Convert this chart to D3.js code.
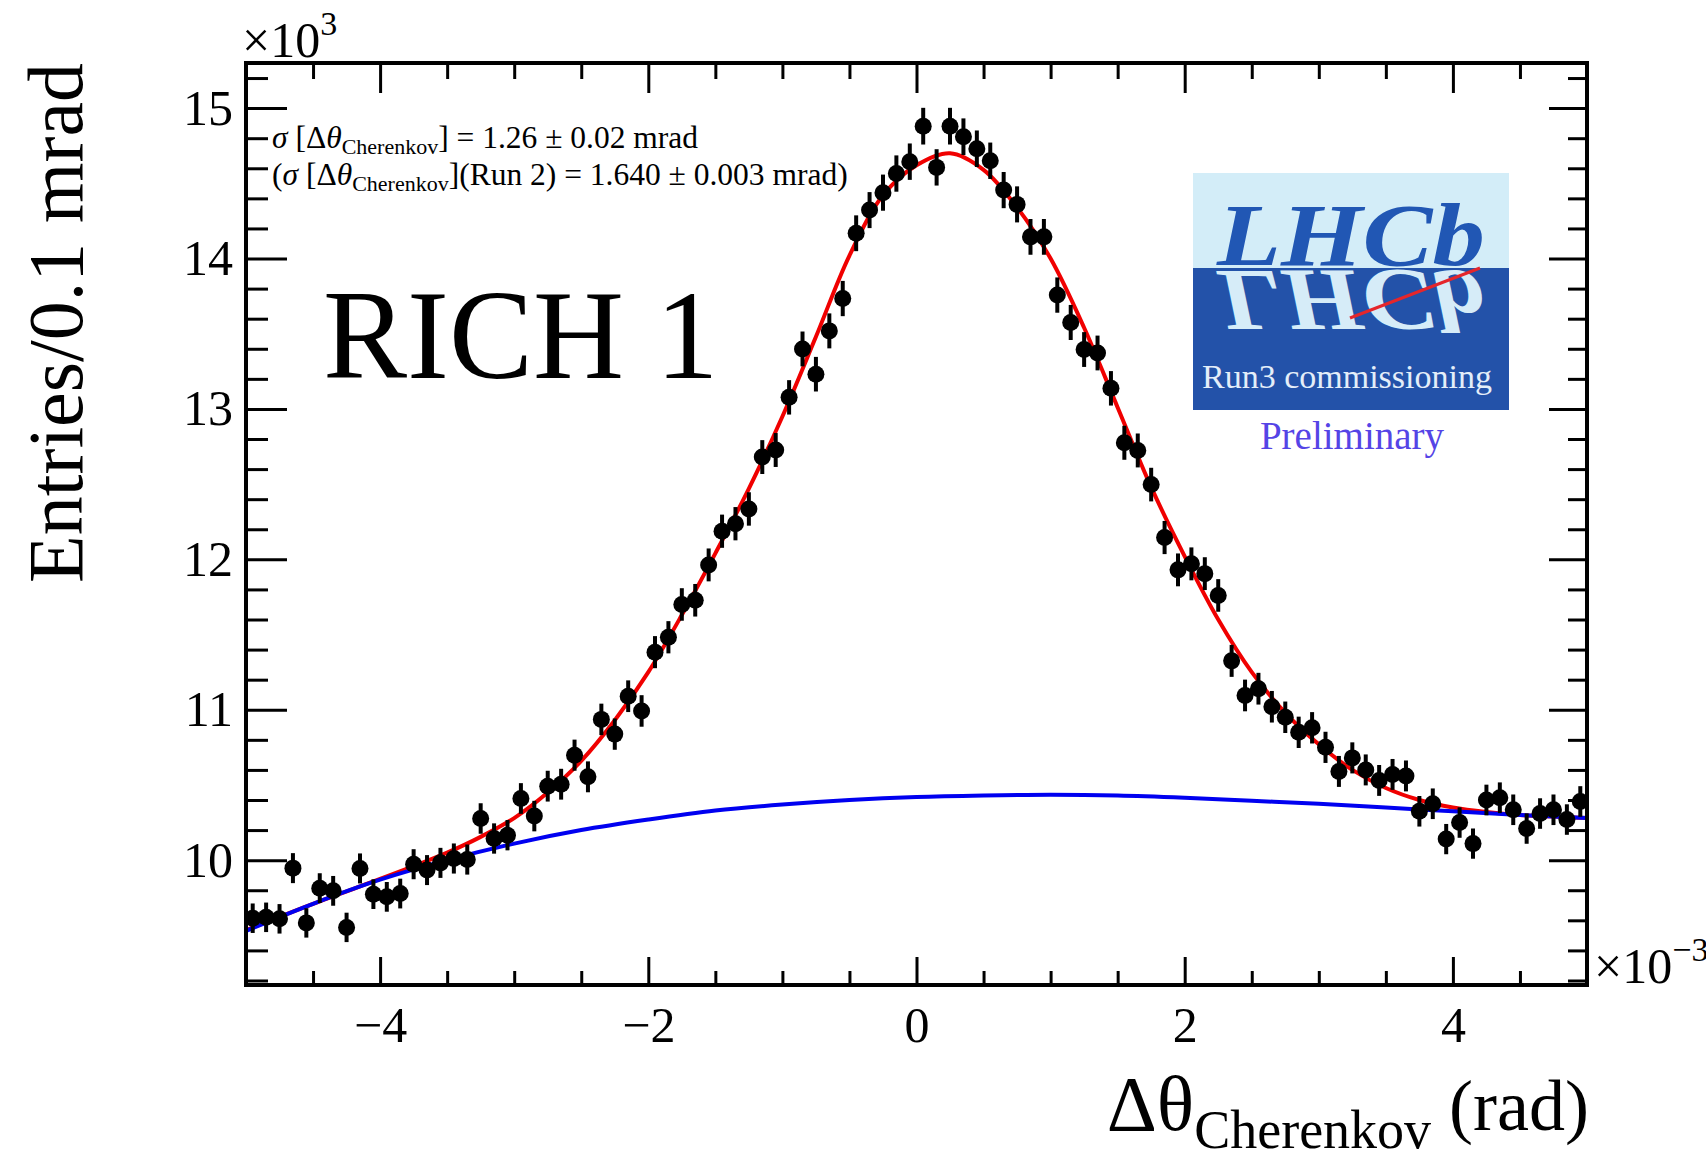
<!DOCTYPE html>
<html>
<head>
<meta charset="utf-8">
<script src="https://cdnjs.cloudflare.com/ajax/libs/d3/7.8.5/d3.min.js"></script>
<style>
  body { margin: 0; background: #fff; }
  svg { display: block; font-family: "Liberation Serif", "DejaVu Serif", serif; }
</style>
</head>
<body>
<svg id="chart"></svg>
<script>
// bin centres (x 10^-3 rad), 0.1 mrad bins
var binCenters = [
    -4.95, -4.85, -4.75, -4.65, -4.55, -4.45, -4.35, -4.25, -4.15, -4.05,
    -3.95, -3.85, -3.75, -3.65, -3.55, -3.45, -3.35, -3.25, -3.15, -3.05,
    -2.95, -2.85, -2.75, -2.65, -2.55, -2.45, -2.35, -2.25, -2.15, -2.05,
    -1.95, -1.85, -1.75, -1.65, -1.55, -1.45, -1.35, -1.25, -1.15, -1.05,
    -0.95, -0.85, -0.75, -0.65, -0.55, -0.45, -0.35, -0.25, -0.15, -0.05,
    0.05, 0.15, 0.25, 0.35, 0.45, 0.55, 0.65, 0.75, 0.85, 0.95,
    1.05, 1.15, 1.25, 1.35, 1.45, 1.55, 1.65, 1.75, 1.85, 1.95,
    2.05, 2.15, 2.25, 2.35, 2.45, 2.55, 2.65, 2.75, 2.85, 2.95,
    3.05, 3.15, 3.25, 3.35, 3.45, 3.55, 3.65, 3.75, 3.85, 3.95,
    4.05, 4.15, 4.25, 4.35, 4.45, 4.55, 4.65, 4.75, 4.85, 4.95
];

// entries per bin (x 10^3)
var entries = [
    9.614, 9.620, 9.610, 9.947, 9.583, 9.814, 9.796, 9.553, 9.945, 9.774,
    9.756, 9.778, 9.973, 9.934, 9.982, 10.011, 10.004, 10.277, 10.144, 10.166,
    10.410, 10.293, 10.492, 10.505, 10.698, 10.554, 10.936, 10.838, 11.090, 10.992,
    11.383, 11.482, 11.700, 11.728, 11.963, 12.187, 12.237, 12.335, 12.680, 12.727,
    13.077, 13.399, 13.231, 13.519, 13.734, 14.168, 14.322, 14.438, 14.565, 14.644,
    14.880, 14.606, 14.880, 14.810, 14.730, 14.650, 14.455, 14.360, 14.144, 14.144,
    13.757, 13.575, 13.395, 13.372, 13.137, 12.775, 12.724, 12.497, 12.145, 11.930,
    11.970, 11.905, 11.760, 11.325, 11.095, 11.140, 11.020, 10.950, 10.850, 10.880,
    10.750, 10.590, 10.680, 10.600, 10.530, 10.570, 10.560, 10.325, 10.375, 10.140,
    10.250, 10.110, 10.400, 10.415, 10.335, 10.210, 10.310, 10.335, 10.270, 10.390
];

// total fit (red)
var fitX = [-5.0, -4.5, -4.0, -3.75, -3.5, -3.25, -3.0, -2.75, -2.5, -2.25, -2.0, -1.75,
    -1.5, -1.25, -1.0, -0.75, -0.5, -0.25, 0.0, 0.25, 0.5, 0.75, 1.0, 1.25, 1.5, 1.75,
    2.0, 2.25, 2.5, 2.75, 3.0, 3.25, 3.5, 3.75, 4.0, 4.25, 4.5, 4.75, 5.0];
var fitY = [9.535, 9.71, 9.875, 9.96, 10.05, 10.155, 10.28, 10.45, 10.66, 10.93, 11.25, 11.63,
    12.04, 12.47, 12.95, 13.48, 14.02, 14.42, 14.62, 14.70, 14.59, 14.34, 14.00, 13.54, 13.01, 12.48,
    12.02, 11.60, 11.25, 10.98, 10.77, 10.60, 10.48, 10.40, 10.35, 10.32, 10.30, 10.29, 10.28];

// background component (blue)
var bkgX = [-5.0, -4.5, -4.0, -3.5, -3.0, -2.5, -2.0, -1.5, -1.0, -0.5, 0.0,
    0.5, 1.0, 1.5, 2.0, 2.5, 3.0, 3.5, 4.0, 4.5, 5.0];
var bkgY = [9.53, 9.71, 9.87, 10.00, 10.11, 10.20, 10.27, 10.33, 10.37, 10.40, 10.42,
    10.43, 10.435, 10.43, 10.415, 10.395, 10.375, 10.35, 10.325, 10.30, 10.28];

var xMajor = [-4, -2, 0, 2, 4],
    xMinor = [-4.5, -3.5, -3, -2.5, -1.5, -1, -0.5, 0.5, 1, 1.5, 2.5, 3, 3.5, 4.5],
    yMajor = [10, 11, 12, 13, 14, 15],
    yMinor = [9.2, 9.4, 9.6, 9.8, 10.2, 10.4, 10.6, 10.8, 11.2, 11.4, 11.6, 11.8,
        12.2, 12.4, 12.6, 12.8, 13.2, 13.4, 13.6, 13.8, 14.2, 14.4, 14.6, 14.8, 15.2];

var svgWidth = 1706,
    svgHeight = 1158,
    frameLeft = 246, frameRight = 1587, frameTop = 63, frameBottom = 985;

var svg = d3.select('#chart')
    .attr("width", svgWidth)
    .attr("height", svgHeight);

svg.append("rect").attr("width", svgWidth).attr("height", svgHeight).attr("fill", "#fff");

var x = d3.scaleLinear().domain([-5, 5]).range([frameLeft, frameRight]);
var y = d3.scaleLinear().domain([9.17, 15.3]).range([frameBottom, frameTop]);

svg.append("clipPath").attr("id", "plotClip")
    .append("rect")
    .attr("x", frameLeft).attr("y", frameTop)
    .attr("width", frameRight - frameLeft).attr("height", frameBottom - frameTop);

// axes, ticks pointing inwards like ROOT
function styleAxis(g) {
    g.select(".domain").remove();
    g.selectAll(".tick line").attr("stroke", "#000").attr("stroke-width", 3);
    g.selectAll("text").attr("fill", "#000")
        .style("font-family", "'Liberation Serif', serif")
        .style("font-size", "50px");
}

svg.append("g").attr("transform", "translate(0," + frameBottom + ")")
    .call(d3.axisBottom(x).tickValues(xMajor).tickSize(-28).tickPadding(21).tickFormat(d3.format("d")))
    .call(styleAxis);
svg.append("g").attr("transform", "translate(0," + frameBottom + ")")
    .call(d3.axisBottom(x).tickValues(xMinor).tickSize(-14).tickFormat(""))
    .call(styleAxis);
svg.append("g").attr("transform", "translate(0," + frameTop + ")")
    .call(d3.axisTop(x).tickValues(xMajor).tickSize(-30).tickFormat(""))
    .call(styleAxis);
svg.append("g").attr("transform", "translate(0," + frameTop + ")")
    .call(d3.axisTop(x).tickValues(xMinor).tickSize(-16).tickFormat(""))
    .call(styleAxis);

svg.append("g").attr("transform", "translate(" + frameLeft + ",0)")
    .call(d3.axisLeft(y).tickValues(yMajor).tickSize(-41).tickPadding(13).tickFormat(d3.format("d")))
    .call(styleAxis);
svg.append("g").attr("transform", "translate(" + frameLeft + ",0)")
    .call(d3.axisLeft(y).tickValues(yMinor).tickSize(-22).tickFormat(""))
    .call(styleAxis);
svg.append("g").attr("transform", "translate(" + frameRight + ",0)")
    .call(d3.axisRight(y).tickValues(yMajor).tickSize(-38).tickFormat(""))
    .call(styleAxis);
svg.append("g").attr("transform", "translate(" + frameRight + ",0)")
    .call(d3.axisRight(y).tickValues(yMinor).tickSize(-19).tickFormat(""))
    .call(styleAxis);

// fit curves
var plot = svg.append("g").attr("clip-path", "url(#plotClip)");

var fitLine = d3.line()
    .x(function (d) { return x(d[0]); })
    .y(function (d) { return y(d[1]); })
    .curve(d3.curveCatmullRom.alpha(0.5));

plot.append("path")
    .datum(d3.zip(fitX, fitY))
    .attr("d", fitLine)
    .attr("fill", "none")
    .attr("stroke", "#f00000")
    .attr("stroke-width", 4);

plot.append("path")
    .datum(d3.zip(bkgX, bkgY))
    .attr("d", fitLine)
    .attr("fill", "none")
    .attr("stroke", "#0000f0")
    .attr("stroke-width", 4);

// data points with poisson error bars
var points = plot.selectAll(".pt")
    .data(d3.zip(binCenters, entries))
    .enter()
    .append("g")
    .attr("class", "pt");

points.append("line")
    .attr("x1", function (d) { return x(d[0]); })
    .attr("x2", function (d) { return x(d[0]); })
    .attr("y1", function (d) { return y(d[1] - Math.sqrt(d[1] * 1000) / 1000); })
    .attr("y2", function (d) { return y(d[1] + Math.sqrt(d[1] * 1000) / 1000); })
    .attr("stroke", "#000")
    .attr("stroke-width", 4);

points.append("circle")
    .attr("cx", function (d) { return x(d[0]); })
    .attr("cy", function (d) { return y(d[1]); })
    .attr("r", 8.5)
    .attr("fill", "#000");

// frame
svg.append("rect")
    .attr("x", frameLeft).attr("y", frameTop)
    .attr("width", frameRight - frameLeft).attr("height", frameBottom - frameTop)
    .attr("fill", "none")
    .attr("stroke", "#000")
    .attr("stroke-width", 4);

// exponent labels
var expTop = svg.append("text").attr("x", 242).attr("y", 57).attr("font-size", 50);
expTop.append("tspan").text("\u00d710");
expTop.append("tspan").attr("font-size", 34).attr("dy", -22).text("3");

var expRight = svg.append("text").attr("x", 1594).attr("y", 983).attr("font-size", 50);
expRight.append("tspan").text("\u00d710");
expRight.append("tspan").attr("font-size", 34).attr("dy", -22).text("\u22123");

// axis titles
svg.append("text")
    .attr("transform", "translate(82," + frameTop + ") rotate(-90)")
    .attr("text-anchor", "end")
    .attr("font-size", 78)
    .text("Entries/0.1 mrad");

var xTitle = svg.append("text")
    .attr("x", frameRight + 2).attr("y", 1130)
    .attr("text-anchor", "end")
    .attr("font-size", 72);
xTitle.append("tspan").attr("font-size", 78).text("\u0394\u03b8");
xTitle.append("tspan").attr("font-size", 54).attr("dy", 18).text("Cherenkov");
xTitle.append("tspan").attr("dy", -18).text(" (rad)");

// resolution annotations
var res1 = svg.append("text").attr("x", 272).attr("y", 148).attr("font-size", 31.5);
res1.append("tspan").attr("font-style", "italic").text("\u03c3");
res1.append("tspan").text(" [\u0394");
res1.append("tspan").attr("font-style", "italic").text("\u03b8");
res1.append("tspan").attr("font-size", 22).attr("dy", 6).text("Cherenkov");
res1.append("tspan").attr("dy", -6).text("] = 1.26 \u00b1 0.02 mrad");

var res2 = svg.append("text").attr("x", 272).attr("y", 185).attr("font-size", 31.5);
res2.append("tspan").text("(");
res2.append("tspan").attr("font-style", "italic").text("\u03c3");
res2.append("tspan").text(" [\u0394");
res2.append("tspan").attr("font-style", "italic").text("\u03b8");
res2.append("tspan").attr("font-size", 22).attr("dy", 6).text("Cherenkov");
res2.append("tspan").attr("dy", -6).text("](Run 2) = 1.640 \u00b1 0.003 mrad)");

svg.append("text")
    .attr("x", 323).attr("y", 378)
    .attr("font-size", 126)
    .text("RICH 1");

// LHCb logo
var logoX = 1193, logoY = 173, logoW = 316, logoSplit = 268, logoH = 237;

svg.append("clipPath").attr("id", "logoClip")
    .append("rect").attr("x", logoX).attr("y", logoY).attr("width", logoW).attr("height", logoH);
svg.append("clipPath").attr("id", "logoLow")
    .append("rect").attr("x", logoX).attr("y", logoSplit).attr("width", logoW).attr("height", logoY + logoH - logoSplit);

var logo = svg.append("g").attr("clip-path", "url(#logoClip)");

logo.append("rect")
    .attr("x", logoX).attr("y", logoY)
    .attr("width", logoW).attr("height", logoSplit - logoY)
    .attr("fill", "#d3edf8");
logo.append("rect")
    .attr("x", logoX).attr("y", logoSplit)
    .attr("width", logoW).attr("height", logoY + logoH - logoSplit)
    .attr("fill", "#2352a9");

logo.append("text")
    .attr("x", 1217).attr("y", 265)
    .attr("font-size", 88)
    .attr("font-style", "italic")
    .attr("font-weight", "bold")
    .attr("textLength", 268)
    .attr("lengthAdjust", "spacingAndGlyphs")
    .attr("fill", "#2157b4")
    .text("LHCb");

logo.append("g").attr("clip-path", "url(#logoLow)")
    .append("text")
    .attr("transform", "translate(0," + (2 * logoSplit) + ") scale(1,-1)")
    .attr("x", 1217).attr("y", 265)
    .attr("font-size", 88)
    .attr("font-style", "italic")
    .attr("font-weight", "bold")
    .attr("textLength", 268)
    .attr("lengthAdjust", "spacingAndGlyphs")
    .attr("fill", "#d6ecf8")
    .text("LHCb");

logo.append("line")
    .attr("x1", 1350).attr("y1", 318)
    .attr("x2", 1480).attr("y2", 268)
    .attr("stroke", "#e5262b")
    .attr("stroke-width", 3);

logo.append("text")
    .attr("x", 1202).attr("y", 388)
    .attr("font-size", 34)
    .attr("fill", "#e4eef9")
    .text("Run3 commissioning");

svg.append("text")
    .attr("x", 1352).attr("y", 449)
    .attr("text-anchor", "middle")
    .attr("font-size", 39)
    .attr("fill", "#5544e6")
    .text("Preliminary");
</script>
</body>
</html>
